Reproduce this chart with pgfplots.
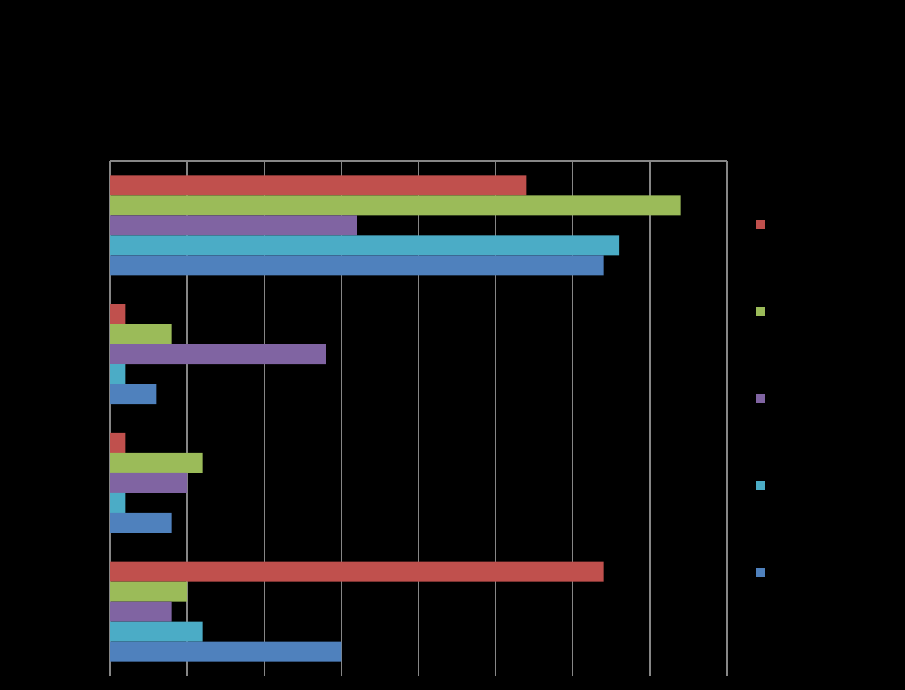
\documentclass[border=0pt]{standalone}
\usepackage{pgfplots}
\pgfplotsset{compat=1.18}
\definecolor{serred}{HTML}{C0504D}
\definecolor{sergreen}{HTML}{9BBB59}
\definecolor{serpurple}{HTML}{8064A2}
\definecolor{sercyan}{HTML}{4BACC6}
\definecolor{serblue}{HTML}{4F81BD}
\definecolor{gridgray}{HTML}{868686}
\begin{document}
\begin{tikzpicture}
% black canvas, 905 x 690 px with the plot area's lower left at (110, 676)
\fill[black] (-110bp,-14bp) rectangle (795bp,676bp);
\begin{axis}[at={(0,0)}, anchor=south west, scale only axis, width=617bp, height=515bp,
  xbar=0pt, bar width=0.1553,
  xmin=0, xmax=40, ymin=-0.5, ymax=3.5,
  xtick={0,5,...,40}, ytick=\empty, xticklabels={},
  major tick length=0pt,
  axis x line*=top, axis y line*=left,
  axis line style={gridgray, line width=2bp, -},
  xmajorgrids, grid style={gridgray, line width=1.4bp},
  legend style={draw=none, fill=none, inner sep=0pt, outer sep=0pt, row sep=78bp,
    at={(axis description cs:1.0462,0.8864)}, anchor=north west,
    nodes={inner sep=0pt, outer sep=0pt}},
  legend image code/.code={\fill[#1] (0bp,-4.5bp) rectangle (9bp,4.5bp);}]
\addplot[fill=serred, draw=none, bar shift=0.3107] coordinates {(27,3) (1,2) (1,1) (32,0)};
\addlegendentry{}
\addplot[fill=sergreen, draw=none, bar shift=0.1553] coordinates {(37,3) (4,2) (6,1) (5,0)};
\addlegendentry{}
\addplot[fill=serpurple, draw=none, bar shift=0] coordinates {(16,3) (14,2) (5,1) (4,0)};
\addlegendentry{}
\addplot[fill=sercyan, draw=none, bar shift=-0.1553] coordinates {(33,3) (1,2) (1,1) (6,0)};
\addlegendentry{}
\addplot[fill=serblue, draw=none, bar shift=-0.3107] coordinates {(32,3) (3,2) (4,1) (15,0)};
\addlegendentry{}
\end{axis}
\pgfresetboundingbox
\path[use as bounding box] (-110bp,-14bp) rectangle (795bp,676bp);
\end{tikzpicture}
\end{document}
